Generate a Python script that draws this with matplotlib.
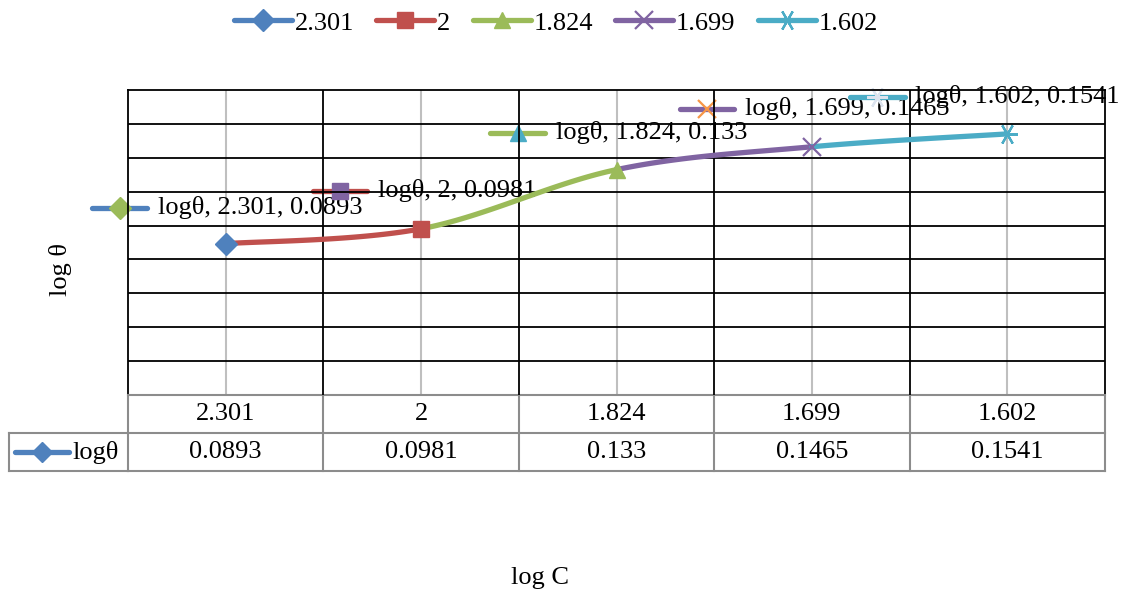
import numpy as np
import matplotlib.pyplot as plt
from matplotlib.lines import Line2D
from matplotlib.transforms import offset_copy, blended_transform_factory

plt.rcParams['font.family'] = ['Liberation Serif', 'DejaVu Serif']

categories = ['2.301', '2', '1.824', '1.699', '1.602']
log_theta = [0.0893, 0.0981, 0.133, 0.1465, 0.1541]

colors = ['#4F81BD', '#C0504D', '#9BBB59', '#8064A2', '#4BACC6']
markers = ['D', 's', '^', 'x', (6, 2, 90)]
msizes = [11, 11, 12, 13, 15]
# marker colours used in the data label keys
label_marker_colors = ['#9BBB59', '#8064A2', '#4BACC6', '#F79646', '#DCE3EE']
# label key offsets from each point, in pixels
label_dx = [-106, -81, -99, -105, -130]
label_dy = [36, 38, 37, 38, 37]

GRID_C = '#8C8C8C'
FS = 19
LW = 3.8


def mew(m):
    return 1.6 if m in ('x', (6, 2, 90)) else 1


fig = plt.figure(figsize=(11.24, 5.95), dpi=100)
ax = fig.add_axes([128 / 1124, 1 - 395 / 595, 977 / 1124, 305 / 595])
ax.set_xlim(-0.5, 4.5)
ax.set_ylim(0, 0.18)
ax.set_xticks([])
ax.set_yticks([])
for s in ['top', 'left', 'right']:
    ax.spines[s].set_color('black')
    ax.spines[s].set_linewidth(1.3)
ax.spines['bottom'].set_color(GRID_C)
ax.spines['bottom'].set_linewidth(1.5)

# gridlines drawn over the data labels
for yv in np.arange(0.02, 0.18, 0.02):
    ax.axhline(yv, color='black', lw=1.3, zorder=3)
for i in range(len(categories)):
    ax.axvline(i, color='#BFBFBF', lw=1.5, zorder=1)
for xb in np.arange(0.5, 4.5, 1.0):
    ax.axvline(xb, color='black', lw=1.3, zorder=3)

# smoothed line, Bezier segments like spreadsheet smoothing
xs = np.arange(len(log_theta), dtype=float)
pts = np.column_stack([xs, log_theta])
ext = np.vstack([pts[0], pts, pts[-1]])
t = np.linspace(0, 1, 40)[:, None]
for i in range(len(pts) - 1):
    p0 = ext[i + 1]
    p3 = ext[i + 2]
    p1 = p0 + (ext[i + 2] - ext[i]) / 6
    p2 = p3 - (ext[i + 3] - ext[i + 1]) / 6
    curve = ((1 - t) ** 3) * p0 + 3 * ((1 - t) ** 2) * t * p1 + 3 * (1 - t) * t ** 2 * p2 + t ** 3 * p3
    ax.plot(curve[:, 0], curve[:, 1], color=colors[i + 1], lw=LW,
            solid_capstyle='round', zorder=4)

for i, v in enumerate(log_theta):
    ax.plot(i, v, marker=markers[i], color=colors[i], ms=msizes[i],
            mew=mew(markers[i]), zorder=5)

# data labels with legend keys
for i, v in enumerate(log_theta):
    tr = offset_copy(ax.transData, fig=fig, x=label_dx[i], y=label_dy[i], units='dots')
    ax.plot([i - 0.14, i + 0.14], [v, v], color=colors[i], lw=LW,
            solid_capstyle='round', transform=tr, clip_on=False, zorder=2)
    ax.plot(i, v, marker=markers[i], color=label_marker_colors[i], ms=msizes[i],
            mew=mew(markers[i]), transform=tr, clip_on=False, zorder=2)
    tr_t = offset_copy(ax.transData, fig=fig, x=label_dx[i] + 38, y=label_dy[i], units='dots')
    ax.text(i, v, 'logθ, %s, %s' % (categories[i], v), transform=tr_t,
            fontsize=FS, va='center', ha='left', zorder=2, clip_on=False)

# data table below the plot
btr = blended_transform_factory(ax.transData, ax.transAxes)
r1 = -38 / 305
r2 = -76 / 305
tkw = dict(color=GRID_C, lw=1.5, transform=btr, clip_on=False)
for yy in [r1, r2]:
    ax.plot([-0.5, 4.5], [yy, yy], **tkw)
for xb in np.arange(-0.5, 5.0, 1.0):
    ax.plot([xb, xb], [0, r2], **tkw)
x_head = -0.5 - 119 / 195.4
ax.plot([x_head, -0.5], [r1, r1], **tkw)
ax.plot([x_head, -0.5], [r2, r2], **tkw)
ax.plot([x_head, x_head], [r1, r2], **tkw)
for i, c in enumerate(categories):
    ax.text(i, r1 / 2, c, transform=btr, ha='center', va='center', fontsize=FS)
    ax.text(i, (r1 + r2) / 2, str(log_theta[i]), transform=btr,
            ha='center', va='center', fontsize=FS)
ym = (r1 + r2) / 2
kx0 = x_head + 6 / 195.4
kx1 = x_head + 60 / 195.4
ax.plot([kx0, kx1], [ym, ym], color=colors[0], lw=LW, solid_capstyle='round',
        transform=btr, clip_on=False)
ax.plot((kx0 + kx1) / 2, ym, marker='D', color=colors[0], ms=10, transform=btr, clip_on=False)
ax.text(kx1 + 3 / 195.4, ym, 'logθ', transform=btr, ha='left', va='center', fontsize=FS)

# legend across the top
handles = [Line2D([0], [0], color=colors[i], lw=LW, marker=markers[i], ms=msizes[i],
                  mew=mew(markers[i]), solid_capstyle='round')
           for i in range(len(categories))]
fig.legend(handles, categories, loc='center', bbox_to_anchor=(556 / 1124, 1 - 23 / 595),
           ncol=5, frameon=False, fontsize=FS, handlelength=2.2, handletextpad=0.1,
           columnspacing=0.85)

fig.text(60 / 1124, 1 - 270 / 595, 'log θ', rotation=90, ha='center', va='center', fontsize=FS)
fig.text(540 / 1124, 1 - 578 / 595, 'log C', ha='center', va='center', fontsize=FS)

fig.savefig('out.png', dpi=100)
